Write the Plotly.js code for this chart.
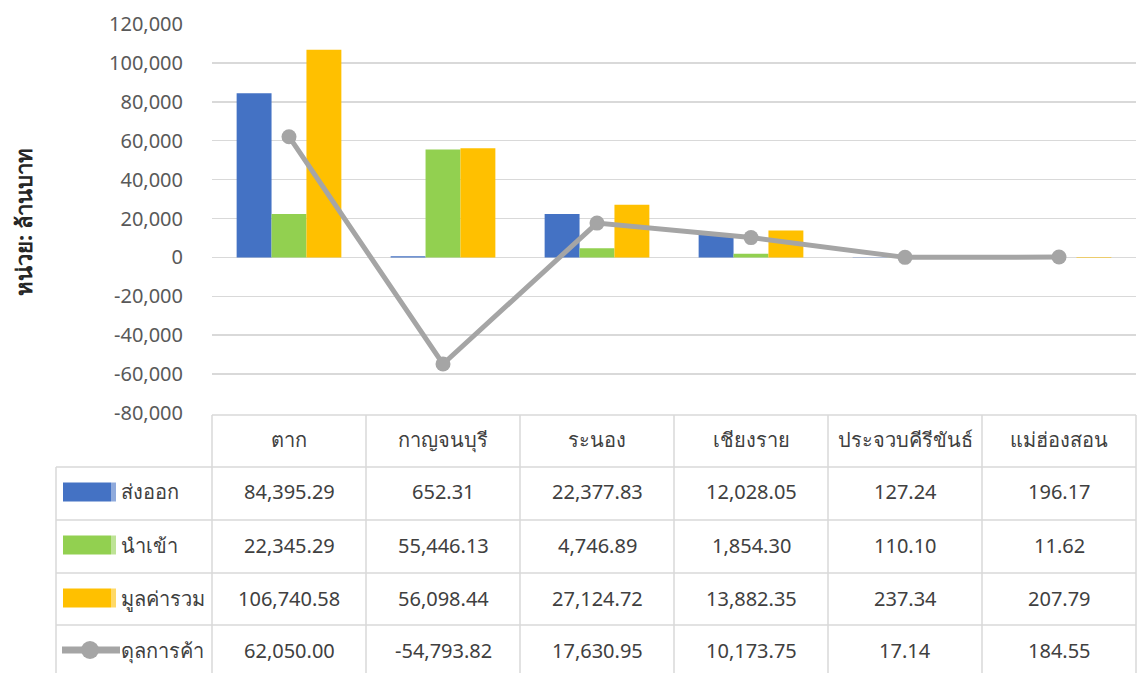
<!DOCTYPE html>
<html>
<head>
<meta charset="utf-8">
<script src="https://cdn.plot.ly/plotly-3.0.1.min.js"></script>
<style>html,body{margin:0;padding:0;background:#fff;}#chart{width:1138px;height:673px;}</style>
</head>
<body>
<div id="chart"></div>
<script>
const categories = ['ตาก','กาญจนบุรี','ระนอง','เชียงราย','ประจวบคีรีขันธ์','แม่ฮ่องสอน'];
const seriesNames = ['ส่งออก','นำเข้า','มูลค่ารวม','ดุลการค้า'];
const exportVals = [84395.29, 652.31, 22377.83, 12028.05, 127.24, 196.17];
const importVals = [22345.29, 55446.13, 4746.89, 1854.30, 110.10, 11.62];
const totalVals = [106740.58, 56098.44, 27124.72, 13882.35, 237.34, 207.79];
const balanceVals = [62050.00, -54793.82, 17630.95, 10173.75, 17.14, 184.55];
const tickVals = [-80000,-60000,-40000,-20000,0,20000,40000,60000,80000,100000,120000];
const tickText = ['-80,000','-60,000','-40,000','-20,000','0','20,000','40,000','60,000','80,000','100,000','120,000'];
const yTitle = 'หน่วย: ล้านบาท';

const colors = ['#4472C4','#92D050','#FFC000','#A5A5A5'];
const FONT = '"Noto Sans", "DejaVu Sans", sans-serif';
const W = 1138, H = 673;
const L = 212, R = 1136, T = 24, B = 413;
const px = x => (x - L) / (R - L);
const py = y => (B - y) / (B - T);

const traces = [
  {type:'bar', name:seriesNames[0], x:categories, y:exportVals, marker:{color:colors[0]}},
  {type:'bar', name:seriesNames[1], x:categories, y:importVals, marker:{color:colors[1]}},
  {type:'bar', name:seriesNames[2], x:categories, y:totalVals, marker:{color:colors[2]}},
  {type:'scatter', mode:'lines+markers', name:seriesNames[3], x:categories, y:balanceVals,
   line:{color:colors[3], width:5}, marker:{color:colors[3], size:15}, cliponaxis:false}
];

const shapes = [];
const annotations = [];
const lineColor = '#D9D9D9';
function hline(y, x0, x1){ shapes.push({type:'line', xref:'paper', yref:'paper', x0:px(x0), x1:px(x1), y0:py(y), y1:py(y), line:{color:lineColor, width:1.5}}); }
function vline(x, y0, y1){ shapes.push({type:'line', xref:'paper', yref:'paper', x0:px(x), x1:px(x), y0:py(y0), y1:py(y1), line:{color:lineColor, width:1.5}}); }

const colW = (R - L) / categories.length;
const rowTops = [415, 467, 520, 573, 625, 678];
const rowCenters = [439, 492, 545, 598, 650];
hline(rowTops[0], L, R);
for (let i = 1; i < 5; i++) hline(rowTops[i], 56, R);
vline(56, rowTops[1], 690);
for (let c = 0; c <= categories.length; c++) vline(L + c*colW, rowTops[0], 690);

const txtFont = {family:FONT, size:20, color:'#404040'};
categories.forEach((cat, c) => {
  annotations.push({xref:'paper', yref:'paper', x:px(L + (c+0.5)*colW), y:py(rowCenters[0]), text:cat, showarrow:false, font:txtFont, xanchor:'center', yanchor:'middle'});
});
const fmt = v => v.toLocaleString('en-US', {minimumFractionDigits:2, maximumFractionDigits:2});
const rowsData = [exportVals, importVals, totalVals, balanceVals];
rowsData.forEach((arr, r) => {
  arr.forEach((v, c) => {
    annotations.push({xref:'paper', yref:'paper', x:px(L + (c+0.5)*colW), y:py(rowCenters[r+1]), text:fmt(v), showarrow:false, font:txtFont, xanchor:'center', yanchor:'middle'});
  });
  annotations.push({xref:'paper', yref:'paper', x:px(119), y:py(rowCenters[r+1]), text:seriesNames[r], showarrow:false, font:txtFont, xanchor:'left', yanchor:'middle'});
  const yc = rowCenters[r+1];
  if (r < 3) {
    shapes.push({type:'rect', xref:'paper', yref:'paper', x0:px(63), x1:px(111), y0:py(yc-9.5), y1:py(yc+9.5), line:{width:0}, fillcolor:colors[r]});
    shapes.push({type:'rect', xref:'paper', yref:'paper', x0:px(111), x1:px(116), y0:py(yc-9.5), y1:py(yc+9.5), line:{width:0}, fillcolor:colors[r], opacity:0.6});
  } else {
    shapes.push({type:'line', xref:'paper', yref:'paper', x0:px(62), x1:px(120), y0:py(yc), y1:py(yc), line:{color:colors[3], width:7}});
    shapes.push({type:'circle', xref:'paper', yref:'paper', x0:px(81), x1:px(99), y0:py(yc-9), y1:py(yc+9), line:{width:0}, fillcolor:colors[3]});
  }
});

annotations.push({xref:'paper', yref:'paper', x:px(23), y:py(222), text:'<b>'+yTitle+'</b>', textangle:-90, showarrow:false, font:{family:FONT, size:22, color:'#262626'}, xanchor:'center', yanchor:'middle'});

const layout = {
  width:W, height:H,
  margin:{l:L, r:W-R, t:T, b:H-B},
  paper_bgcolor:'#ffffff', plot_bgcolor:'#ffffff',
  showlegend:false,
  barmode:'group', bargap:0.32, bargroupgap:0,
  font:{family:FONT, size:20, color:'#595959'},
  xaxis:{showticklabels:false, showgrid:false, zeroline:false, showline:false, ticks:'', fixedrange:true},
  yaxis:{range:[-80000,120000], tickvals:tickVals, ticktext:tickText, showgrid:true, gridcolor:'#D9D9D9', gridwidth:1.5,
         zeroline:true, zerolinecolor:'#D9D9D9', zerolinewidth:1.5, showline:false, ticks:'', ticklabelstandoff:28,
         tickfont:{family:FONT, size:20, color:'#595959'}},
  shapes:shapes, annotations:annotations
};
Plotly.newPlot('chart', traces, layout, {displayModeBar:false, staticPlot:true});
</script>
</body>
</html>
